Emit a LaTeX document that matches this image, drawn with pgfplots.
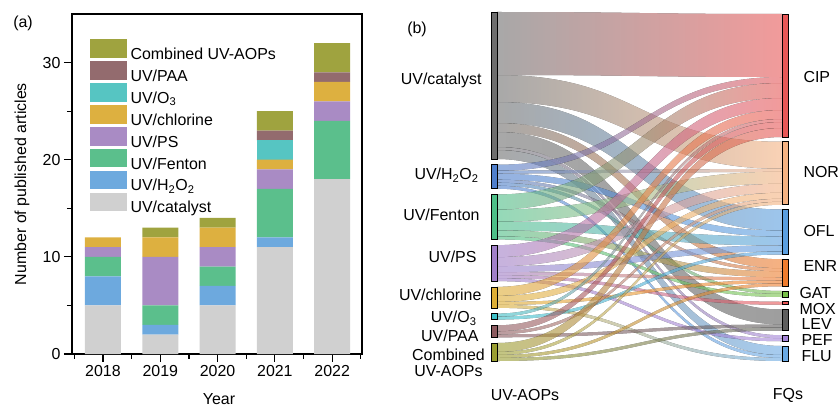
\documentclass[border=0pt]{standalone}
\usepackage{fontspec}
\setmainfont{Liberation Sans}
\usepackage{pgfplots}
\usepackage{pgfplotstable}
\pgfplotsset{compat=1.18}

% bar colours (a)
\definecolor{bCat}{HTML}{D0D0D0}
\definecolor{bHO}{HTML}{6DA9DE}
\definecolor{bFen}{HTML}{5BBF8C}
\definecolor{bPS}{HTML}{A98BC4}
\definecolor{bCl}{HTML}{DDB040}
\definecolor{bO}{HTML}{56C5C2}
\definecolor{bPAA}{HTML}{936B6E}
\definecolor{bComb}{HTML}{9FA33F}
% node colours (b)
\definecolor{s1}{HTML}{6E6E6E}
\definecolor{s2}{HTML}{4F7FCC}
\definecolor{s3}{HTML}{4DBF88}
\definecolor{s4}{HTML}{A07FC8}
\definecolor{s5}{HTML}{DDAE35}
\definecolor{s6}{HTML}{3CC0C8}
\definecolor{s7}{HTML}{8C5A5F}
\definecolor{s8}{HTML}{9A9E30}
\definecolor{t1}{HTML}{E85858}
\definecolor{t2}{HTML}{F5B383}
\definecolor{t3}{HTML}{5B9FE0}
\definecolor{t4}{HTML}{F07D2E}
\definecolor{t5}{HTML}{79C24A}
\definecolor{t6}{HTML}{E85555}
\definecolor{t7}{HTML}{5E5E5E}
\definecolor{t8}{HTML}{A585D8}
\definecolor{t9}{HTML}{6AAAE5}

\newcommand\lbl{\fontsize{16}{19}\selectfont}

% flows: source (1 catalyst,2 H2O2,3 Fenton,4 PS,5 chlorine,6 O3,7 PAA,8 combined)
% target (1 CIP,2 NOR,3 OFL,4 ENR,5 GAT,6 MOX,7 LEV,8 PEF,9 FLU)
\pgfplotstableread{
src tgt val
1 1 21
1 2 9
1 3 7
1 4 3
1 7 5
1 8 1
1 9 3
2 1 2
2 2 1
2 3 2
2 4 1
2 5 1
2 9 1
3 1 5
3 2 4
3 3 3
3 4 2
3 5 1
4 1 4
4 2 3
4 3 2
4 4 1
4 6 1
4 8 1
5 1 3
5 2 2
5 4 1
5 9 1
6 1 1
6 3 1
7 1 2
7 2 1
7 7 1
8 1 3
8 2 1
8 4 1
8 7 1
}\flows

\newcommand\kk{3}
\pgfplotstablegetrowsof{\flows}
\pgfmathtruncatemacro\nlast{\pgfplotsretval-1}
\pgfplotsforeachungrouped \ii in {1,...,8}{\expandafter\xdef\csname stot\ii\endcsname{0}}
\pgfplotsforeachungrouped \ii in {1,...,9}{\expandafter\xdef\csname ttot\ii\endcsname{0}}
\pgfplotsforeachungrouped \rr in {0,...,\nlast}{%
  \pgfplotstablegetelem{\rr}{src}\of\flows \edef\sr{\pgfplotsretval}%
  \pgfplotstablegetelem{\rr}{tgt}\of\flows \edef\tg{\pgfplotsretval}%
  \pgfplotstablegetelem{\rr}{val}\of\flows \edef\vl{\pgfplotsretval}%
  \edef\tmpa{\csname stot\sr\endcsname}%
  \pgfmathsetmacro\tmp{\tmpa+\vl}%
  \expandafter\xdef\csname stot\sr\endcsname{\tmp}%
  \edef\tmpa{\csname ttot\tg\endcsname}%
  \pgfmathsetmacro\tmp{\tmpa+\vl}%
  \expandafter\xdef\csname ttot\tg\endcsname{\tmp}%
}
\def\total{0}
\pgfplotsforeachungrouped \ii in {1,...,8}{%
  \edef\tmpa{\csname stot\ii\endcsname}%
  \pgfmathsetmacro\total{\total+\tmpa}%
}
\pgfmathsetmacro\gapL{(349-\kk*\total)/7}
\pgfmathsetmacro\gapR{(347-\kk*\total)/8}
\def\cur{12}
\pgfplotsforeachungrouped \ii in {1,...,8}{%
  \expandafter\xdef\csname sy\ii\endcsname{\cur}%
  \expandafter\xdef\csname soff\ii\endcsname{\cur}%
  \edef\tmpa{\csname stot\ii\endcsname}%
  \pgfmathsetmacro\cur{\cur+\kk*\tmpa+\gapL}%
}
\def\cur{14}
\pgfplotsforeachungrouped \ii in {1,...,9}{%
  \expandafter\xdef\csname ty\ii\endcsname{\cur}%
  \expandafter\xdef\csname toff\ii\endcsname{\cur}%
  \edef\tmpa{\csname ttot\ii\endcsname}%
  \pgfmathsetmacro\cur{\cur+\kk*\tmpa+\gapR}%
}
\def\bandlist{}
\pgfplotsforeachungrouped \rr in {0,...,\nlast}{%
  \pgfplotstablegetelem{\rr}{src}\of\flows \edef\sr{\pgfplotsretval}%
  \pgfplotstablegetelem{\rr}{tgt}\of\flows \edef\tg{\pgfplotsretval}%
  \pgfplotstablegetelem{\rr}{val}\of\flows \edef\vl{\pgfplotsretval}%
  \edef\ya{\csname soff\sr\endcsname}%
  \pgfmathsetmacro\yb{\ya+\kk*\vl}%
  \expandafter\xdef\csname soff\sr\endcsname{\yb}%
  \edef\yc{\csname toff\tg\endcsname}%
  \pgfmathsetmacro\yd{\yc+\kk*\vl}%
  \expandafter\xdef\csname toff\tg\endcsname{\yd}%
  \xdef\bandlist{\unexpanded\expandafter{\bandlist}%
    \noexpand\pgfplotsextra{\noexpand\scope[transparency group, opacity=0.6]%
    \noexpand\fill[left color=s\sr, right color=t\tg]
      (axis cs:497,\ya) .. controls (axis cs:639.5,\ya) and (axis cs:639.5,\yc) .. (axis cs:782,\yc)
      -- (axis cs:782,\yd) .. controls (axis cs:639.5,\yd) and (axis cs:639.5,\yb) .. (axis cs:497,\yb) -- cycle;%
    \noexpand\endscope}}%
}
\def\nodelist{}
\pgfplotsforeachungrouped \ii in {1,...,8}{%
  \edef\ya{\csname sy\ii\endcsname}%
  \edef\tmpa{\csname stot\ii\endcsname}%
  \pgfmathsetmacro\yb{\ya+\kk*\tmpa}%
  \xdef\nodelist{\unexpanded\expandafter{\nodelist}%
    \noexpand\filldraw[fill=s\ii, draw=black, line width=0.7bp] (axis cs:491,\ya) rectangle (axis cs:497,\yb);}%
}
\pgfplotsforeachungrouped \ii in {1,...,9}{%
  \edef\ya{\csname ty\ii\endcsname}%
  \edef\tmpa{\csname ttot\ii\endcsname}%
  \pgfmathsetmacro\yb{\ya+\kk*\tmpa}%
  \xdef\nodelist{\unexpanded\expandafter{\nodelist}%
    \noexpand\filldraw[fill=t\ii, draw=black, line width=0.7bp] (axis cs:782,\ya) rectangle (axis cs:788,\yb);}%
}

\pgfplotsset{myleg/.style={legend image code/.code={\fill[##1,draw=none] (0bp,-3.5bp) rectangle (37bp,15bp);}}}

\begin{document}
\begin{tikzpicture}[x=1bp,y=1bp]
% ---------------- (a) stacked bars
\begin{axis}[
  at={(72bp,53bp)}, anchor=south west, scale only axis,
  width=290bp, height=340bp,
  ybar stacked, bar width=36bp,
  xmin=-0.54, xmax=4.52, ymin=0, ymax=35,
  xtick={0,1,2,3,4}, xticklabels={2018,2019,2020,2021,2022},
  minor xtick={-0.5,0.5,1.5,2.5,3.5,4.5},
  ytick={0,10,20,30}, minor ytick={5,15,25},
  xtick pos=bottom, ytick pos=left, tick align=outside,
  major tick length=8bp, minor tick length=5bp,
  axis line style={line width=1.2bp},
  tick style={line width=1.2bp, black},
  tick label style={font=\lbl},
  /pgf/number format/assume math mode=true,
  label style={font=\lbl},
  ylabel={Number of published articles},
  ylabel style={at={(axis description cs:-0.172,0.5)}, anchor=center},
  xlabel={Year},
  xlabel style={at={(axis description cs:0.507,-0.15)}, anchor=base, inner sep=0pt},
  legend style={draw=none, fill=none, at={(0.062,0.926)}, anchor=north west,
    inner sep=0pt, font=\lbl, row sep=0pt, column sep=3bp,
    nodes={inner sep=0.4bp}},
  legend cell align=left,
  reverse legend,
]
\addplot[fill=bCat, draw=none, myleg] coordinates {(0,5) (1,2) (2,5) (3,11) (4,18)};
\addlegendentry{UV/catalyst}
\addplot[fill=bHO, draw=none, myleg] coordinates {(0,3) (1,1) (2,2) (3,1) (4,0)};
\addlegendentry{UV/H\textsubscript{2}O\textsubscript{2}}
\addplot[fill=bFen, draw=none, myleg] coordinates {(0,2) (1,2) (2,2) (3,5) (4,6)};
\addlegendentry{UV/Fenton}
\addplot[fill=bPS, draw=none, myleg] coordinates {(0,1) (1,5) (2,2) (3,2) (4,2)};
\addlegendentry{UV/PS}
\addplot[fill=bCl, draw=none, myleg] coordinates {(0,1) (1,2) (2,2) (3,1) (4,2)};
\addlegendentry{UV/chlorine}
\addplot[fill=bO, draw=none, myleg] coordinates {(0,0) (1,0) (2,0) (3,2) (4,0)};
\addlegendentry{UV/O\textsubscript{3}}
\addplot[fill=bPAA, draw=none, myleg] coordinates {(0,0) (1,0) (2,0) (3,1) (4,1)};
\addlegendentry{UV/PAA}
\addplot[fill=bComb, draw=none, myleg] coordinates {(0,0) (1,1) (2,1) (3,2) (4,3)};
\addlegendentry{Combined UV-AOPs}
\end{axis}
\node[font=\lbl] at (23bp,384bp) {(a)};

% ---------------- (b) Sankey
\begin{axis}[
  at={(390bp,0bp)}, anchor=south west, scale only axis,
  width=448bp, height=407bp,
  xmin=390, xmax=838, ymin=0, ymax=407, y dir=reverse,
  hide axis, clip=false,
]
\bandlist
\nodelist
\node[anchor=east, font=\lbl] at (axis cs:485,80) {UV/catalyst};
\node[anchor=east, font=\lbl] at (axis cs:482,175) {UV/H\textsubscript{2}O\textsubscript{2}};
\node[anchor=east, font=\lbl] at (axis cs:483,215) {UV/Fenton};
\node[anchor=east, font=\lbl] at (axis cs:480,257) {UV/PS};
\node[anchor=east, font=\lbl] at (axis cs:485,295) {UV/chlorine};
\node[anchor=east, font=\lbl] at (axis cs:480,318) {UV/O\textsubscript{3}};
\node[anchor=east, font=\lbl] at (axis cs:482,336) {UV/PAA};
\node[anchor=east, font=\fontsize{16}{16}\selectfont, align=center, inner sep=1bp] at (axis cs:486,363) {Combined\\UV-AOPs};
\node[anchor=west, font=\lbl] at (axis cs:800,77) {CIP};
\node[anchor=west, font=\lbl] at (axis cs:800,172) {NOR};
\node[anchor=west, font=\lbl] at (axis cs:800,231) {OFL};
\node[anchor=west, font=\lbl] at (axis cs:800,266) {ENR};
\node[anchor=west, font=\lbl] at (axis cs:796,293) {GAT};
\node[anchor=west, font=\lbl] at (axis cs:796,309) {MOX};
\node[anchor=west, font=\lbl] at (axis cs:798,324) {LEV};
\node[anchor=west, font=\lbl] at (axis cs:798,340) {PEF};
\node[anchor=west, font=\lbl] at (axis cs:798,356) {FLU};
\node[font=\lbl] at (axis cs:525,395) {UV-AOPs};
\node[font=\lbl] at (axis cs:788,395) {FQs};
\node[font=\lbl] at (axis cs:417,29) {(b)};
\end{axis}
\pgfresetboundingbox
\path[use as bounding box] (0,0) rectangle (838bp,407bp);
\end{tikzpicture}
\end{document}
